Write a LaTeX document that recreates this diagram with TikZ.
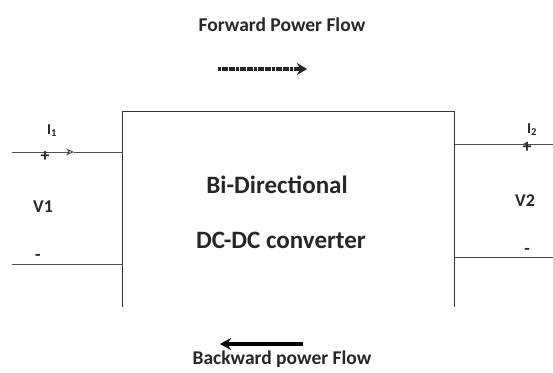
\documentclass[tikz,border=0pt]{standalone}
\usepackage{fontspec}
\setmainfont{Carlito}
\usetikzlibrary{arrows.meta}
\begin{document}
\begin{tikzpicture}[x=1pt,y=-1pt,
  wire/.style={draw=black!70,line width=0.9pt},
  lbl/.style={font=\bfseries\fontsize{18}{20}\selectfont,text=black!85,inner sep=0pt},
  cur/.style={font=\bfseries\fontsize{15}{17}\selectfont,text=black!85,inner sep=0pt},
  big/.style={font=\bfseries\fontsize{25}{29}\selectfont,text=black!85,inner sep=0pt},
  flow/.style={font=\bfseries\fontsize{19.5}{23}\selectfont,text=black!85,inner sep=0pt}]
\useasboundingbox (0,0) rectangle (553,372);
% converter box (open at the bottom)
\coordinate (bl) at (122.5,307);
\coordinate (tl) at (122.5,111);
\coordinate (tr) at (454.5,111);
\coordinate (br) at (454.5,307);
\draw[line width=1pt,black!80] (bl) -- (tl) -- (tr) -- (br);
\node[big] (bi) at (277,185) {Bi-Directional};
\node[big] (dc) at (281,240) {DC-DC converter};
% left port
\coordinate (l1a) at (12,152);
\coordinate (l1m) at (74,152);
\coordinate (l1b) at (122.5,152);
\coordinate (l2a) at (12,264);
\coordinate (l2b) at (122.5,264);
\draw[wire,-{Stealth[length=8pt,width=7pt,open]}] (l1a) -- (l1m);
\draw[wire] (l1m) -- (l1b);
\draw[wire] (l2a) -- (l2b);
\node[cur] (i1) at (52,131) {I\textsubscript{1}};
\node[lbl] (p1) at (45,157) {+};
\node[lbl] (v1) at (43,207) {V1};
\node[lbl] (m1) at (38,257) {-};
% right port
\coordinate (r1a) at (454.5,144);
\coordinate (r1m) at (523,144);
\coordinate (r1b) at (553,144);
\coordinate (r2a) at (454.5,257);
\coordinate (r2b) at (553,257);
\draw[wire] (r1a) -- (r1b);
\draw[wire,-{Stealth[length=5pt,width=5pt,open]}] (r1b) -- (r1m);
\draw[wire] (r2a) -- (r2b);
\node[cur] (i2) at (532,130) {I\textsubscript{2}};
\node[lbl] (p2) at (527,148) {+};
\node[lbl] (v2) at (525,201) {V2};
\node[lbl] (m2) at (527,251) {-};
% power flow
\node[flow] (fwd) at (282,25) {Forward Power Flow};
\coordinate (fa) at (218,69);
\coordinate (fb) at (307,69);
\draw[line width=4.5pt,black!85,dash pattern=on 3pt off 0.6pt,-{Stealth[length=10pt,width=12pt]}] (fa) -- (fb);
\coordinate (ba) at (303,344);
\coordinate (bb) at (220,344);
\draw[line width=3.5pt,-{Stealth[length=11pt,width=12pt]}] (ba) -- (bb);
\node[flow] (bwd) at (282,359) {Backward power Flow};
\end{tikzpicture}
\end{document}
